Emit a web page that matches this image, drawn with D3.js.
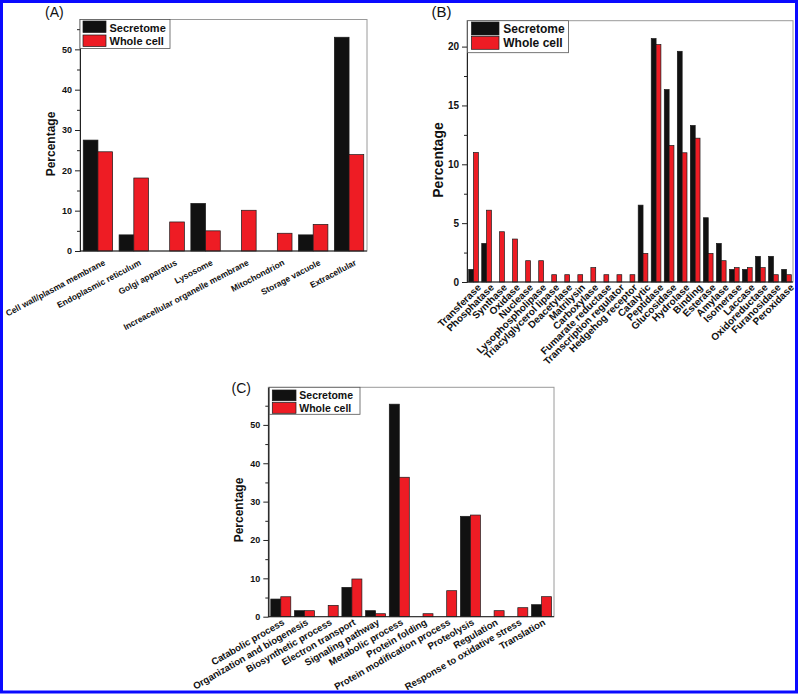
<!DOCTYPE html>
<html><head><meta charset="utf-8">
<script src="https://cdn.jsdelivr.net/npm/d3@7"></script>
<style>
html,body{margin:0;padding:0;background:#fff;}
svg{display:block;font-family:"Liberation Sans",Arial,Helvetica,sans-serif;}
</style></head>
<body>
<svg id="chart" width="800" height="694"></svg>
<script>
// ---------- DATA ----------
const seriesNames = ["Secretome", "Whole cell"];

const catsA = ["Cell wall/plasma membrane", "Endoplasmic reticulum", "Golgi apparatus", "Lysosome",
  "Increacellular organelle membrane", "Mitochondrion", "Storage vacuole", "Extracellular"];
const secA = [27.5, 4.0, 0, 11.8, 0, 0, 4.0, 53.0];
const wholeA = [24.6, 18.1, 7.2, 5.0, 10.1, 4.4, 6.6, 23.9];
const ticksA = [0, 10, 20, 30, 40, 50];
const minorA = [5, 15, 25, 35, 45, 55];

const catsB = ["Transferase", "Phosphatase", "Synthase", "Oxidase", "Nuclease", "Lysophospholipase",
  "Triacylglycerol lipase", "Deacetylase", "Matrilysin", "Carboxylase", "Fumarate reductase",
  "Transcription regulator", "Hedgehog receptor", "Catalytic", "Peptidase", "Glucosidase",
  "Hydrolase", "Binding", "Esterase", "Amylase", "Isomerase", "Laccase", "Oxidoreductase",
  "Furanosidase", "Peroxidase"];
const secB = [1.07, 3.28, 0, 0, 0, 0, 0, 0, 0, 0, 0, 0, 0, 6.53, 20.68, 16.35, 19.6, 13.3, 5.46, 3.28,
  1.07, 1.07, 2.18, 2.18, 1.07];
const wholeB = [11.0, 6.1, 4.27, 3.65, 1.81, 1.81, 0.62, 0.62, 0.62, 1.22, 0.62, 0.62, 0.62, 2.43,
  20.17, 11.6, 10.98, 12.22, 2.43, 1.81, 1.22, 1.22, 1.22, 0.62, 0.62];
const ticksB = [0, 5, 10, 15, 20];
const minorB = [2.5, 7.5, 12.5, 17.5];

const catsC = ["Catabolic process", "Organization and biogenesis", "Biosynthetic process",
  "Electron transport", "Signaling pathway", "Metabolic process", "Protein folding",
  "Protein modification process", "Proteolysis", "Regulation", "Response to oxidative stress",
  "Translation"];
const secC = [4.6, 1.57, 0, 7.65, 1.57, 55.4, 0, 0, 26.17, 0, 0, 3.13];
const wholeC = [5.2, 1.57, 2.96, 9.83, 0.78, 36.35, 0.78, 6.78, 26.5, 1.57, 2.35, 5.22];
const ticksC = [0, 10, 20, 30, 40, 50];
const minorC = [5, 15, 25, 35, 45, 55];

// ---------- LAYOUT ----------
const colors = ["#111111", "#ee1c24"];
const svg = d3.select("#chart");

svg.append("rect").attr("x", 1.5).attr("y", 1.5).attr("width", 795).attr("height", 690.5)
  .attr("fill", "none").attr("stroke", "#0a0aff").attr("stroke-width", 3);

function panel(cfg) {
  const g = svg.append("g");
  const x = d3.scaleBand().domain(cfg.cats).range([cfg.x0, cfg.x1])
    .paddingInner(cfg.pi).paddingOuter(cfg.po);
  const xs = d3.scaleBand().domain([0, 1]).range([0, x.bandwidth()]);
  const y = d3.scaleLinear().domain([0, cfg.ymax]).range([cfg.y1, cfg.y0]);

  // frame
  g.append("rect").attr("x", cfg.x0).attr("y", cfg.y0)
    .attr("width", cfg.x1 - cfg.x0).attr("height", cfg.y1 - cfg.y0)
    .attr("fill", "none").attr("stroke", "#9a9a9a").attr("stroke-width", 1);

  // bars
  const rows = cfg.cats.map((c, i) => ({ c, v: [cfg.sec[i], cfg.whole[i]] }));
  rows.forEach(r => {
    r.v.forEach((val, s) => {
      if (val <= 0) return;
      g.append("rect")
        .attr("x", x(r.c) + xs(s))
        .attr("y", y(val))
        .attr("width", xs.bandwidth())
        .attr("height", y(0) - y(val))
        .attr("fill", colors[s])
        .attr("stroke", "#1a1a1a").attr("stroke-width", 0.7);
    });
  });

  // y axis
  const ya = g.append("g").attr("transform", `translate(${cfg.x0},0)`)
    .call(d3.axisLeft(y).tickValues(cfg.ticks).tickFormat(d3.format("d"))
      .tickSize(5).tickPadding(3).tickSizeOuter(0));
  ya.selectAll("text").attr("font-size", cfg.tickFont).attr("font-weight", "bold").attr("fill", "#111")
    .attr("font-family", "Liberation Sans, Arial, sans-serif");
  ya.selectAll("line,path").attr("stroke", "#222");
  const ym = g.append("g").attr("transform", `translate(${cfg.x0},0)`)
    .call(d3.axisLeft(y).tickValues(cfg.minor).tickFormat("").tickSize(3).tickSizeOuter(0));
  ym.selectAll("line,path").attr("stroke", "#222");

  // bottom axis line
  g.append("line").attr("x1", cfg.x0).attr("x2", cfg.x1).attr("y1", y(0)).attr("y2", y(0))
    .attr("stroke", "#222").attr("stroke-width", 1);

  // x labels
  cfg.cats.forEach(c => {
    const cx = x(c) + x.bandwidth() / 2;
    g.append("text")
      .attr("transform", `translate(${cx + cfg.lx},${y(0) + cfg.ly}) rotate(${cfg.rot})`)
      .attr("text-anchor", "end").attr("dy", "0.72em")
      .attr("font-size", cfg.labFont).attr("font-weight", cfg.labWeight).attr("fill", "#111")
      .text(c);
  });

  // y title
  g.append("text")
    .attr("transform", `translate(${cfg.yt[0]},${cfg.yt[1]}) rotate(-90)`)
    .attr("text-anchor", "middle").attr("dy", "0.35em")
    .attr("font-size", cfg.ytFont).attr("font-weight", "bold").attr("fill", "#111")
    .text("Percentage");

  // panel tag
  g.append("text").attr("x", cfg.tag[0]).attr("y", cfg.tag[1])
    .attr("font-size", cfg.tagFont).attr("fill", "#111").text(cfg.tagText);

  // legend
  const L = cfg.leg;
  g.append("rect").attr("x", L.x).attr("y", L.y).attr("width", L.w).attr("height", L.h)
    .attr("fill", "#fff").attr("stroke", "#555").attr("stroke-width", 0.8);
  seriesNames.forEach((n, i) => {
    g.append("rect").attr("x", L.sx).attr("y", L.sy[i]).attr("width", L.sw).attr("height", L.sh)
      .attr("fill", colors[i]).attr("stroke", "#1a1a1a").attr("stroke-width", 0.7);
    g.append("text").attr("x", L.tx).attr("y", L.ty[i])
      .attr("font-size", L.font).attr("font-weight", "bold").attr("fill", "#111").text(n);
  });
}

panel({
  cats: catsA, sec: secA, whole: wholeA, ticks: ticksA, minor: minorA, ymax: 57.4,
  x0: 80, x1: 367, y0: 19.5, y1: 251, pi: 0.18, po: 0.09,
  tickFont: 9, labFont: 8.5, labWeight: "bold", rot: -28, lx: 5, ly: 8,
  yt: [50.5, 144], ytFont: 12, tag: [45, 17], tagFont: 14, tagText: "(A)",
  leg: { x: 80, y: 19.5, w: 90, h: 29, sx: 83, sy: [21, 35], sw: 23, sh: 11.5,
    tx: 109.5, ty: [31.5, 45.3], font: 11 }
});

panel({
  cats: catsB, sec: secB, whole: wholeB, ticks: ticksB, minor: minorB, ymax: 22.2,
  x0: 467, x1: 793, y0: 20.7, y1: 282, pi: 0.26, po: 0.13,
  tickFont: 10, labFont: 10, labWeight: "bold", rot: -45, lx: 3, ly: 1,
  yt: [438.5, 160], ytFont: 14, tag: [431.5, 17], tagFont: 15, tagText: "(B)",
  leg: { x: 467.5, y: 20.7, w: 101, h: 32, sx: 471.5, sy: [22, 36.3], sw: 27.5, sh: 13,
    tx: 503.3, ty: [32.8, 47], font: 12 }
});

panel({
  cats: catsC, sec: secC, whole: wholeC, ticks: ticksC, minor: minorC, ymax: 59.8,
  x0: 268.3, x1: 554, y0: 387.3, y1: 616.7, pi: 0.156, po: 0.105,
  tickFont: 9, labFont: 9.6, labWeight: "bold", rot: -30, lx: 1, ly: 1.5,
  yt: [238.6, 510], ytFont: 12, tag: [231.5, 393], tagFont: 14, tagText: "(C)",
  leg: { x: 269.3, y: 387.3, w: 90.7, h: 27, sx: 272.3, sy: [390, 402.5], sw: 23.7, sh: 10.8,
    tx: 299.3, ty: [399.3, 412], font: 10.5 }
});
</script>
</body></html>
